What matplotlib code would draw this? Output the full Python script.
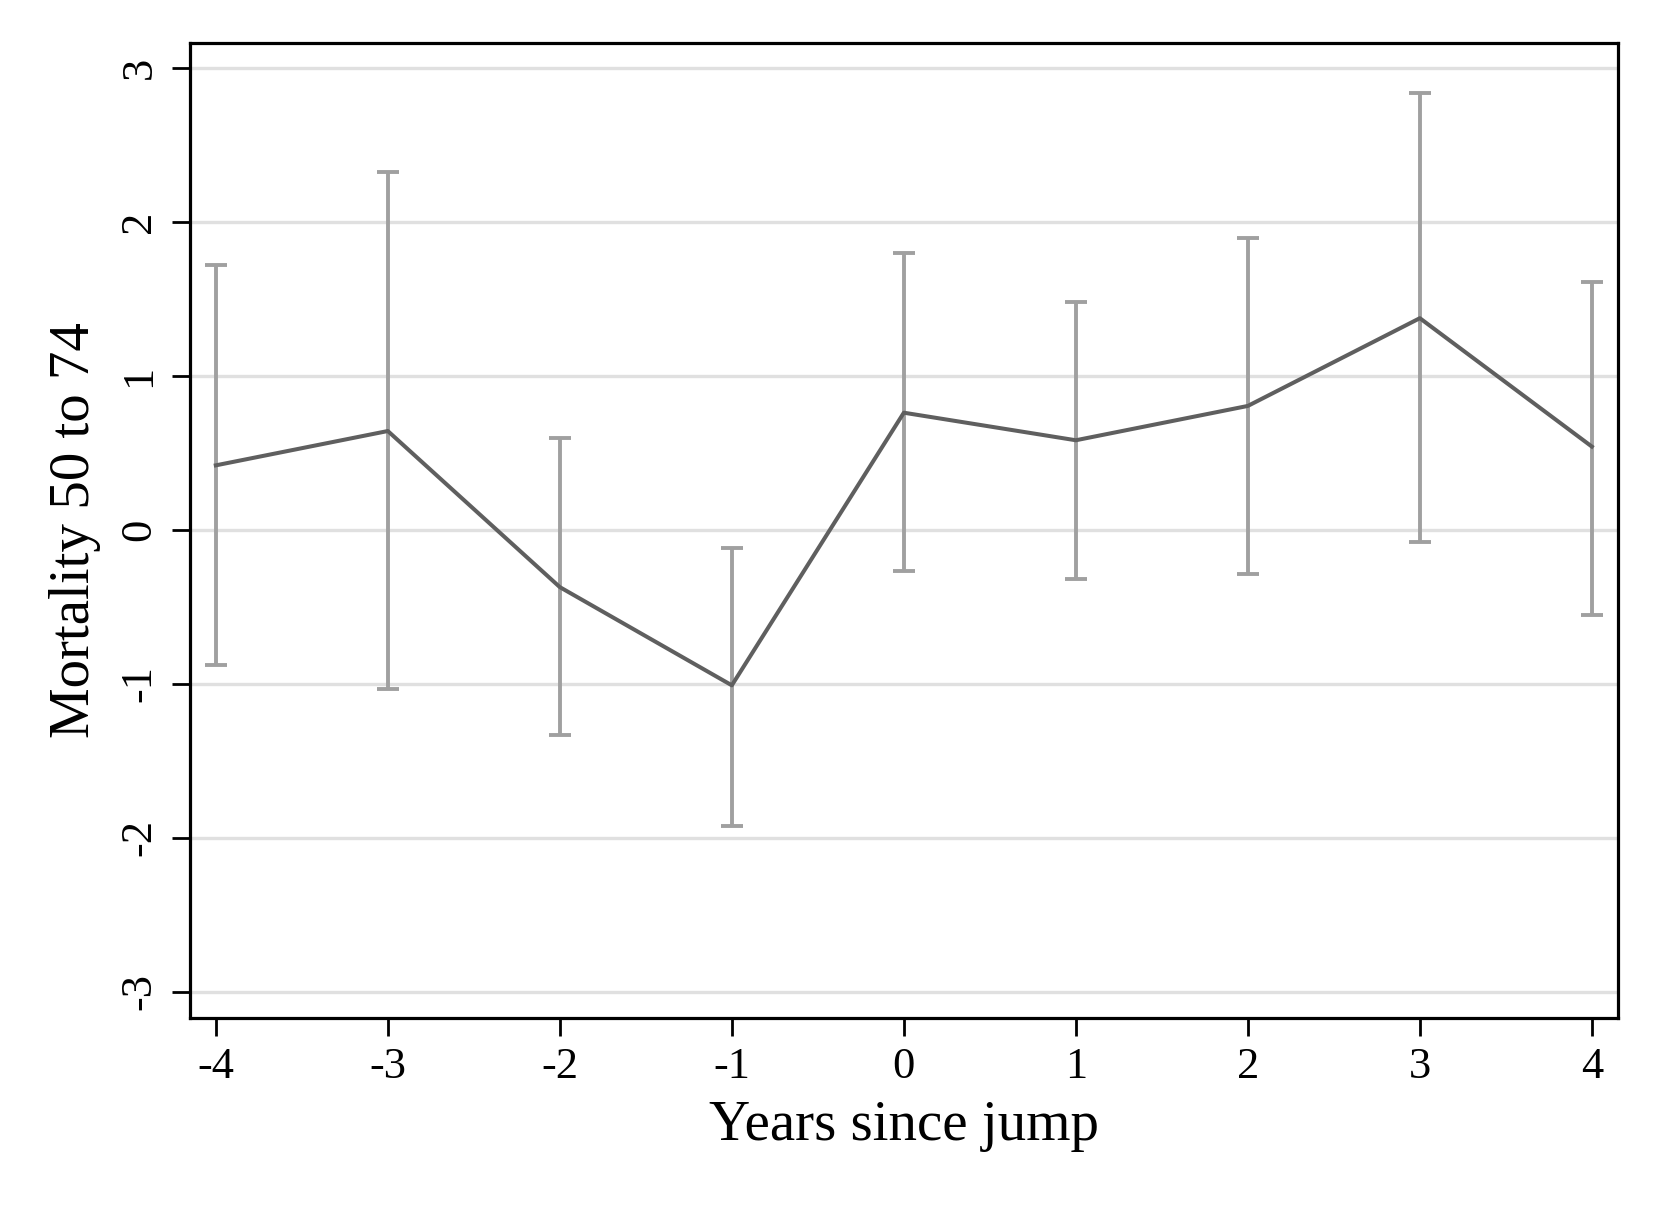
import numpy as np
import matplotlib
matplotlib.use('Agg')
import matplotlib.pyplot as plt

# event-study estimates
years = [-4, -3, -2, -1, 0, 1, 2, 3, 4]
coef = [0.42, 0.643, -0.371, -1.009, 0.762, 0.583, 0.806, 1.376, 0.542]
ci_low = [-0.875, -1.032, -1.333, -1.925, -0.267, -0.316, -0.287, -0.08, -0.55]
ci_high = [1.719, 2.325, 0.60, -0.116, 1.80, 1.484, 1.899, 2.838, 1.609]
yticks = [-3, -2, -1, 0, 1, 2, 3]

plt.rcParams['font.family'] = ['Liberation Serif', 'DejaVu Serif']

fig = plt.figure(figsize=(16.61, 12.08), dpi=100)
ax = fig.add_axes([0.1144, 0.1573, 0.8595, 0.8074])

x = np.array(years)
y = np.array(coef)
lo = y - np.array(ci_low)
hi = np.array(ci_high) - y

for g in yticks:
    ax.axhline(g, color='#e0e0e0', lw=2.4, zorder=0)

ax.errorbar(x, y, yerr=[lo, hi], fmt='none', ecolor='#a0a0a0',
            elinewidth=2.8, capsize=8, capthick=2.8, zorder=2)
ax.plot(x, y, color='#5f5f5f', lw=2.9, zorder=3)

ax.set_xlim(-4.15, 4.15)
ax.set_ylim(-3.17, 3.166)
ax.set_xticks(years)
ax.set_yticks(yticks)
ax.set_xticklabels([str(v) for v in years])
ax.set_yticklabels([str(v) for v in yticks], rotation=90, va='center')

for s in ax.spines.values():
    s.set_linewidth(2.3)
ax.tick_params(axis='both', length=13, width=2.0, labelsize=32)
ax.tick_params(axis='x', pad=8)
ax.tick_params(axis='y', pad=9)

ax.set_xlabel('Years since jump', fontsize=41, labelpad=9)
ax.set_ylabel('Mortality 50 to 74', fontsize=41, labelpad=13)

fig.savefig('out.png', dpi=100)
